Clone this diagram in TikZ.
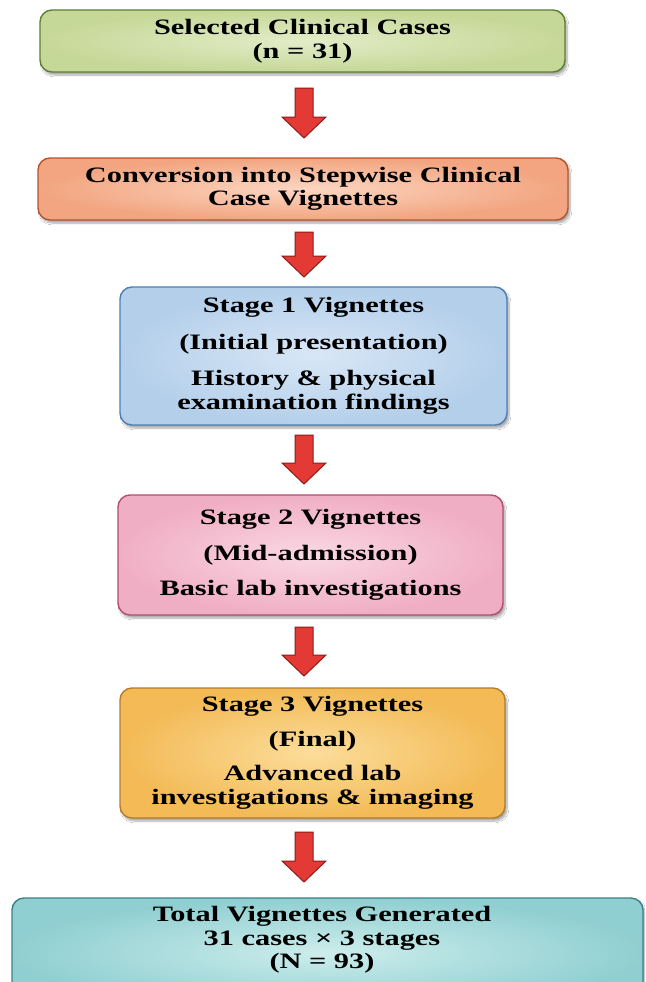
\documentclass[tikz,border=0pt]{standalone}
\usepackage{fontspec}
\setmainfont{Liberation Serif}[FakeStretch=1.38]
\usetikzlibrary{calc,shadows.blur}
\newcommand\vfont{\fontsize{22}{23.5}\selectfont\bfseries}
\definecolor{gIn}{HTML}{E3ECC8}\definecolor{gOut}{HTML}{C6D898}\definecolor{gBd}{HTML}{5E7F34}
\definecolor{oIn}{HTML}{FCD6C2}\definecolor{oOut}{HTML}{F2A580}\definecolor{oBd}{HTML}{B5552E}
\definecolor{bIn}{HTML}{D8E7F6}\definecolor{bOut}{HTML}{B4CFEA}\definecolor{bBd}{HTML}{4E7EB3}
\definecolor{pIn}{HTML}{FAD8E3}\definecolor{pOut}{HTML}{F0AEC4}\definecolor{pBd}{HTML}{B54C72}
\definecolor{yIn}{HTML}{FBDD9A}\definecolor{yOut}{HTML}{F3BA56}\definecolor{yBd}{HTML}{B47E28}
\definecolor{tIn}{HTML}{CDEDEC}\definecolor{tOut}{HTML}{90CFD1}\definecolor{tBd}{HTML}{3A8086}
\definecolor{arFill}{HTML}{E33A36}\definecolor{arBd}{HTML}{8E1C1A}
\tikzset{
  box/.style={rounded corners=12pt, line width=1.4pt, align=center, font=\vfont,
    inner sep=0pt,
    blur shadow={shadow xshift=2pt, shadow yshift=-3pt, shadow blur steps=8, shadow opacity=35}},
  greenbox/.style={box, draw=gBd, inner color=gIn, outer color=gOut},
  orangebox/.style={box, draw=oBd, inner color=oIn, outer color=oOut},
  bluebox/.style={box, draw=bBd, inner color=bIn, outer color=bOut},
  pinkbox/.style={box, draw=pBd, inner color=pIn, outer color=pOut},
  yellowbox/.style={box, draw=yBd, inner color=yIn, outer color=yOut},
  tealbox/.style={box, draw=tBd, inner color=tIn, outer color=tOut},
  boxtext/.style={align=center, font=\vfont, inner sep=0pt},
  redarrow/.style={draw=arBd, line width=1pt, fill=arFill, line join=miter}
}
\newcommand\fatarrow[2]{%
  \draw[redarrow] let \p1=(#1), \p2=(#2) in
    (\x1-9pt,\y1) -- (\x1+9pt,\y1) -- (\x1+9pt,\y2+21pt) -- (\x1+22pt,\y2+21pt)
    -- (\x1,\y2) -- (\x1-22pt,\y2+21pt) -- (\x1-9pt,\y2+21pt) -- cycle;}
\begin{document}
\begin{tikzpicture}[x=1pt,y=-1pt]
\useasboundingbox[fill=white] (0,0) rectangle (645,982);
\clip (0,0) rectangle (645,982);
\node[greenbox, minimum width=525pt, minimum height=62pt] (n1) at (302.5,41)
  {Selected Clinical Cases\\(n = 31)};
\node[orangebox, minimum width=530pt, minimum height=62pt] (n2) at (303,189)
  {Conversion into Stepwise Clinical\\Case Vignettes};
\node[bluebox, minimum width=387pt, minimum height=138pt] (n3) at (313.5,356)
  {Stage 1 Vignettes\\[13pt](Initial presentation)\\[13pt]History \& physical\\examination findings};
\node[pinkbox, minimum width=385pt, minimum height=120pt] (n4) at (310.5,555)
  {Stage 2 Vignettes\\[12pt](Mid-admission)\\[12pt]Basic lab investigations};
\node[yellowbox, minimum width=385pt, minimum height=130pt] (n5) at (312.5,753)
  {Stage 3 Vignettes\\[11pt](Final)\\[11pt]Advanced lab\\investigations \& imaging};
\node[tealbox, minimum width=631pt, minimum height=110pt] (n6) at (327.5,953) {};
\node[boxtext] (t6) at (322,940) {Total Vignettes Generated\\31 cases × 3 stages\\(N = 93)};
\coordinate (a1s) at (304,88);  \coordinate (a1e) at (304,138);
\coordinate (a2s) at (304,232); \coordinate (a2e) at (304,277);
\coordinate (a3s) at (304,435); \coordinate (a3e) at (304,484);
\coordinate (a4s) at (304,627); \coordinate (a4e) at (304,676);
\coordinate (a5s) at (304,832); \coordinate (a5e) at (304,882);
\fatarrow{a1s}{a1e}
\fatarrow{a2s}{a2e}
\fatarrow{a3s}{a3e}
\fatarrow{a4s}{a4e}
\fatarrow{a5s}{a5e}
\end{tikzpicture}
\end{document}
